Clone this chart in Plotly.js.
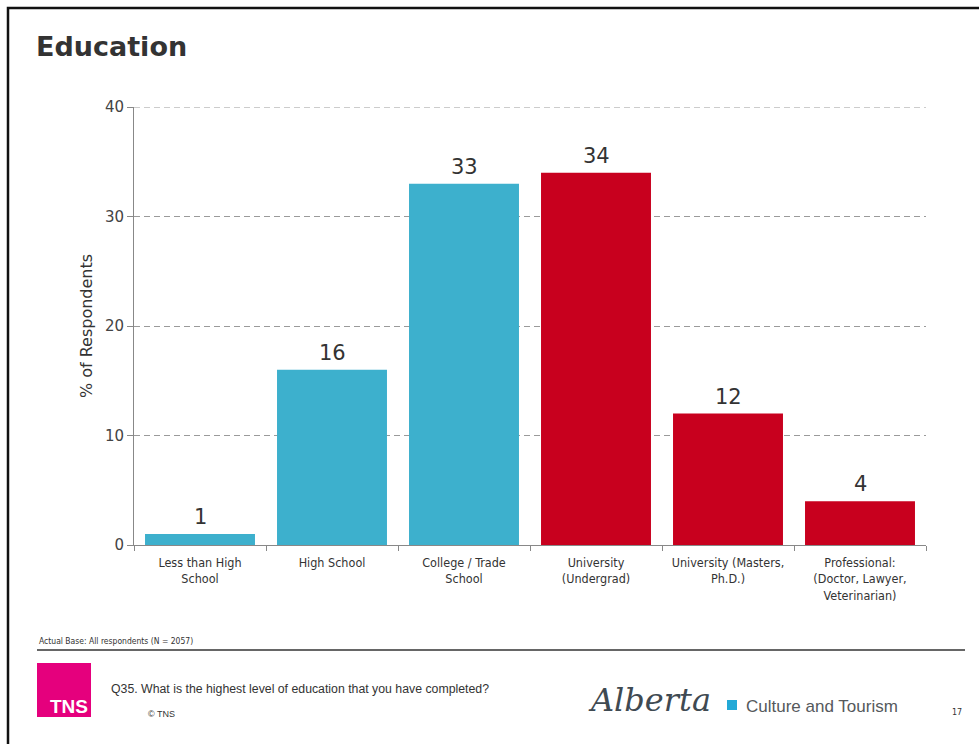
<!DOCTYPE html>
<html>
<head>
<meta charset="utf-8">
<script src="https://cdn.plot.ly/plotly-3.0.1.min.js"></script>
<style>html,body{margin:0;padding:0;background:#fff;}#chart{width:979px;height:744px;}</style>
</head>
<body>
<div id="chart"></div>
<script>
const categories = ["Less than High<br>School", "High School", "College / Trade<br>School", "University<br>(Undergrad)", "University (Masters,<br>Ph.D.)", "Professional:<br>(Doctor, Lawyer,<br>Veterinarian)"];
const values = [1, 16, 33, 34, 12, 4];
const barColors = ["#3DB0CD", "#3DB0CD", "#3DB0CD", "#C8001E", "#C8001E", "#C8001E"];
const yTicks = [0, 10, 20, 30, 40];

const W = 979, H = 744;
const L = 134, R = 926, T = 107, B = 545;
const px = x => (x - L) / (R - L);
const py = y => (B - y) / (B - T);

const trace = {
  type: 'bar',
  x: categories,
  y: values,
  marker: {color: barColors, line: {width: 0}},
  hoverinfo: 'none'
};

const labelAnn = categories.map((c, i) => ({
  x: c, y: values[i], xref: 'x', yref: 'y',
  text: String(values[i]), showarrow: false,
  yanchor: 'bottom', yshift: 3,
  font: {family: 'DejaVu Sans, Verdana, sans-serif', size: 21, color: '#333333'}
}));

const extraAnn = [
  {xref: 'paper', yref: 'paper', x: px(34), y: py(47), xanchor: 'left', yanchor: 'middle',
   text: '<b>Education</b>', showarrow: false,
   font: {family: 'DejaVu Sans, Verdana, sans-serif', size: 27, color: '#333333'}},
  {xref: 'paper', yref: 'paper', x: px(37), y: py(641), xanchor: 'left', yanchor: 'middle',
   text: 'Actual Base: All respondents (N = 2057)', showarrow: false,
   font: {family: 'DejaVu Sans Condensed, DejaVu Sans, sans-serif', size: 8.5, color: '#333333'}},
  {xref: 'paper', yref: 'paper', x: px(69), y: py(706), xanchor: 'center', yanchor: 'middle',
   text: '<b>TNS</b>', showarrow: false,
   font: {family: 'Liberation Sans Narrow, Liberation Sans, Arial, sans-serif', size: 19, color: '#ffffff'}},
  {xref: 'paper', yref: 'paper', x: px(109), y: py(689), xanchor: 'left', yanchor: 'middle',
   text: 'Q35. What is the highest level of education that you have completed?', showarrow: false,
   font: {family: 'Liberation Sans Narrow, Liberation Sans, Arial, sans-serif', size: 12.3, color: '#333333'}},
  {xref: 'paper', yref: 'paper', x: px(146), y: py(714), xanchor: 'left', yanchor: 'middle',
   text: '© TNS', showarrow: false,
   font: {family: 'Liberation Sans Narrow, Liberation Sans, Arial, sans-serif', size: 9, color: '#333333'}},
  {xref: 'paper', yref: 'paper', x: px(586), y: py(700), xanchor: 'left', yanchor: 'middle',
   text: '<i>Alberta</i>', showarrow: false,
   font: {family: 'DejaVu Serif, Liberation Serif, serif', size: 32, color: '#3f4a52'}},
  {xref: 'paper', yref: 'paper', x: px(744), y: py(706), xanchor: 'left', yanchor: 'middle',
   text: 'Culture and Tourism', showarrow: false,
   font: {family: 'Liberation Sans, Arial, sans-serif', size: 17, color: '#55595c'}},
  {xref: 'paper', yref: 'paper', x: px(957), y: py(712), xanchor: 'center', yanchor: 'middle',
   text: '17', showarrow: false,
   font: {family: 'DejaVu Sans, sans-serif', size: 8, color: '#333333'}}
];

const shapes = [
  // frame
  {type: 'rect', xref: 'paper', yref: 'paper', x0: px(8), x1: px(990), y0: py(8), y1: py(760),
   line: {color: '#111111', width: 2.5}, fillcolor: 'rgba(0,0,0,0)', layer: 'below'},
  // top gridline (at axis max)
  {type: 'line', xref: 'paper', yref: 'y', x0: 0, x1: 1, y0: yTicks[yTicks.length - 1], y1: yTicks[yTicks.length - 1],
   line: {color: '#9a9a9a', width: 1, dash: '6px,4px'}, layer: 'below'},
  // footer rule
  {type: 'line', xref: 'paper', yref: 'paper', x0: px(37), x1: px(965), y0: py(650), y1: py(650),
   line: {color: '#666666', width: 2}},
  // TNS pink box
  {type: 'rect', xref: 'paper', yref: 'paper', x0: px(37), x1: px(91), y0: py(663), y1: py(717),
   line: {width: 0}, fillcolor: '#E5007D', layer: 'below'},
  // Alberta blue square
  {type: 'rect', xref: 'paper', yref: 'paper', x0: px(727), x1: px(737), y0: py(700), y1: py(710),
   line: {width: 0}, fillcolor: '#23A9D6'}
];

const layout = {
  width: W, height: H,
  margin: {l: L, r: W - R, t: T, b: H - B, pad: 0},
  paper_bgcolor: '#ffffff', plot_bgcolor: '#ffffff',
  showlegend: false,
  bargap: 0.167,
  font: {family: 'DejaVu Sans, Verdana, sans-serif', color: '#333333'},
  xaxis: {
    type: 'category',
    tickson: 'boundaries',
    ticks: 'outside', ticklen: 5, tickcolor: '#888888', tickwidth: 1,
    showline: true, linecolor: '#888888', linewidth: 1,
    showgrid: false, zeroline: false,
    ticklabelstandoff: 6,
    tickfont: {family: 'DejaVu Sans Condensed, DejaVu Sans, sans-serif', size: 12.5, color: '#333333'},
    fixedrange: true
  },
  yaxis: {
    range: [0, 40],
    tickvals: yTicks,
    ticks: 'outside', ticklen: 6, tickcolor: '#888888', tickwidth: 1,
    showline: true, linecolor: '#888888', linewidth: 1,
    showgrid: true, gridcolor: '#9a9a9a', griddash: '6px,4px', gridwidth: 1,
    zeroline: false,
    tickfont: {family: 'DejaVu Sans, Verdana, sans-serif', size: 15, color: '#444444'},
    title: {text: '% of Respondents', font: {family: 'DejaVu Sans, Verdana, sans-serif', size: 16, color: '#333333'}, standoff: 8},
    fixedrange: true
  },
  annotations: labelAnn.concat(extraAnn),
  shapes: shapes
};

Plotly.newPlot('chart', [trace], layout, {displayModeBar: false, staticPlot: true});
</script>
</body>
</html>
